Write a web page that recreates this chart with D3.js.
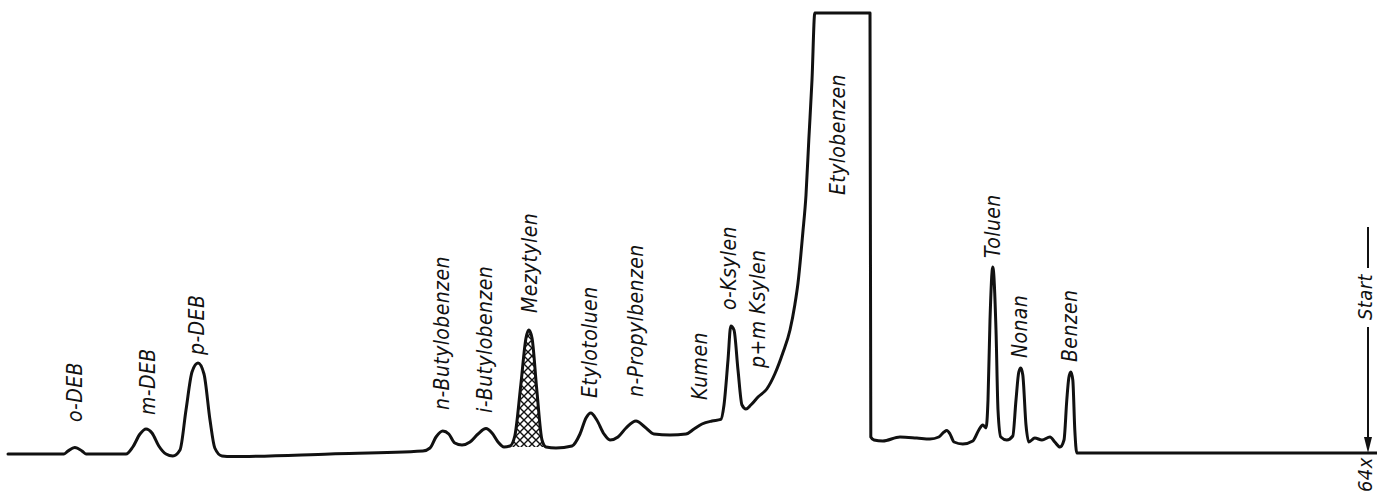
<!DOCTYPE html>
<html>
<head>
<meta charset="utf-8">
<script src="https://cdn.jsdelivr.net/npm/d3@7"></script>
<style>
  html, body { margin: 0; background: #fff; }
  svg { display: block; }
  text { font-family: "DejaVu Sans Condensed", "DejaVu Sans", sans-serif; font-style: italic; fill: #111; letter-spacing: 0.4px; }
</style>
</head>
<body>
<svg id="chart" width="1377" height="493"></svg>
<script>
// Recorder trace: retention time (min, counted back from injection) and detector signal (chart units, 110 = full scale)
const traceTime = [
  34.0, 32.6, 32.5, 32.33, 32.15, 32.05, 31.05,
  30.88, 30.7, 30.55, 30.4, 30.23, 30.05, 29.88,
  29.7, 29.55, 29.4, 29.25, 29.1, 28.95, 28.83, 28.65, 28.4,
  25.95, 23.63,
  23.45, 23.3, 23.13, 22.98, 22.83, 22.65, 22.45,
  22.25, 22.05, 21.9, 21.75, 21.6, 21.45,
  21.33, 21.18, 21.05, 20.98, 20.9, 20.78, 20.65, 20.55,
  20.3, 19.9,
  19.7, 19.55, 19.43, 19.28, 19.1, 18.95, 18.75,
  18.55, 18.3, 18.08, 17.85, 17.45, 17.05,
  16.85, 16.65, 16.4, 16.18,
  16.1, 16.0, 15.93, 15.85, 15.75, 15.65, 15.55, 15.43,
  15.25, 15.03, 14.83, 14.63, 14.45, 14.33, 14.25, 14.13, 14.05, 13.98, 13.9, 13.83,
  12.45, 12.43, 12.35, 12.13, 11.7, 11.28, 10.95, 10.73,
  10.6, 10.53, 10.45, 10.35, 10.13, 9.88, 9.73, 9.63, 9.55,
  9.5, 9.45, 9.38, 9.3, 9.25, 9.18, 9.03, 8.88,
  8.8, 8.73, 8.68, 8.63, 8.55, 8.48, 8.33, 8.15, 7.95, 7.83, 7.7, 7.6,
  7.53, 7.48, 7.43, 7.38, 7.33, 7.28, 6.7, -0.23
];
const traceSignal = [
  -0.25, -0.25, 0.5, 1.4, 0.5, -0.25, -0.25,
  1.5, 4.75, 6, 5, 1.75, -0.25, -0.75,
  0.75, 10.75, 20.25, 22.5, 19.75, 8.25, 1.25, -0.75, -0.9,
  -0.25, 0.5,
  1.25, 4, 5.5, 4.75, 2.5, 2, 2.75,
  4.75, 6.1, 5, 2.75, 1.5, 1.75,
  4.25, 17, 28.75, 30.75, 28.75, 15.75, 3.25, 1.5,
  1.25, 1.75,
  4.75, 8.75, 10, 8.25, 4.75, 3.25, 4,
  6.25, 8, 6.5, 4.75, 4.5, 4.75,
  6, 7.25, 8, 8.4,
  12, 23.25, 31.75, 30.75, 20.75, 12, 11, 12,
  14, 16, 19.75, 25, 30.75, 37, 42.5, 55, 64.5, 78.25, 93.25, 110,
  110, 4, 3.25, 3, 4, 3.75, 3.5, 4,
  5.25, 5.6, 4.75, 2.75, 2.25, 3, 5.75, 7, 6.25,
  13.25, 33.25, 46.5, 30.75, 10.75, 4, 3.25, 4.25,
  13.25, 20.25, 21.25, 19.5, 7, 2.75, 3.75, 3.25, 4, 2.75, 1.5, 3.25,
  13.25, 18.75, 20.25, 18.25, 5.75, 0, 0, 0
];

// Peak identifications, with the time and signal level where each label begins
const peakNames  = ["o-DEB", "m-DEB", "p-DEB", "n-Butylobenzen", "i-Butylobenzen", "Mezytylen",
                    "Etylotoluen", "n-Propylbenzen", "Kumen", "o-Ksylen", "p+m Ksylen",
                    "Etylobenzen", "Toluen", "Nonan", "Benzen"];
const peakLabelTime  = [32.15, 30.33, 29.1, 22.98, 21.9, 20.78, 19.28, 18.13, 16.53, 15.8, 15.08, 13.08, 9.2, 8.53, 7.28];
const peakLabelLevel = [7.75, 9.5, 24.5, 10.75, 10, 35, 13.75, 14, 13.25, 35.75, 21.25, 64.5, 48.75, 23.75, 22.75];

// Shaded peak (mesitylene) window and its drop-line level
const shadedWindow = [20.55, 21.45];
const shadedBase = 1.5;

const startTime = 0;
const attenuation = "64x";

const W = 1377, H = 493;
const svg = d3.select("#chart");

// Time runs from the injection mark on the right towards the left
const x = d3.scaleLinear().domain([0, 34]).range([1368, 8]);
const y = d3.scaleLinear().domain([0, 110]).range([453, 13]);

const points = traceTime.map((t, i) => ({ t, s: traceSignal[i] }));

// Cross-hatch for the shaded peak
const defs = svg.append("defs");
const pat = defs.append("pattern")
  .attr("id", "hatch").attr("patternUnits", "userSpaceOnUse")
  .attr("width", 8).attr("height", 8);
pat.append("path").attr("d", "M0,0 L8,8 M8,0 L0,8")
  .attr("stroke", "#111").attr("stroke-width", 1.4).attr("fill", "none");

const shaded = points.filter(p => p.t >= shadedWindow[0] && p.t <= shadedWindow[1]);
svg.append("path")
  .datum(shaded)
  .attr("fill", "url(#hatch)")
  .attr("d", d3.area()
    .x(p => x(p.t)).y0(y(shadedBase)).y1(p => y(p.s))
    .curve(d3.curveMonotoneX));

// The trace itself
svg.append("path")
  .datum(points)
  .attr("fill", "none")
  .attr("stroke", "#111")
  .attr("stroke-width", 3)
  .attr("stroke-linejoin", "round")
  .attr("stroke-linecap", "round")
  .attr("d", d3.line().x(p => x(p.t)).y(p => y(p.s)).curve(d3.curveMonotoneX));

// Peak labels, written upwards
svg.append("g").selectAll("text")
  .data(peakNames)
  .join("text")
  .attr("transform", (d, i) => `translate(${x(peakLabelTime[i])},${y(peakLabelLevel[i])}) rotate(-90)`)
  .attr("font-size", 21)
  .text(d => d);

// Injection mark with arrow
const sx = x(startTime);
const mark = svg.append("g").attr("stroke", "#111").attr("stroke-width", 2);
mark.append("line").attr("x1", sx).attr("x2", sx).attr("y1", y(56.5)).attr("y2", y(46.25));
mark.append("line").attr("x1", sx).attr("x2", sx).attr("y1", y(31.5)).attr("y2", y(3));
svg.append("path")
  .attr("d", `M${sx},${y(0)} L${sx - 4},${y(4)} L${sx + 4},${y(4)} Z`)
  .attr("fill", "#111");
svg.append("text")
  .attr("transform", `translate(${sx + 4},${y(39)}) rotate(-90)`)
  .attr("text-anchor", "middle")
  .attr("font-size", 20)
  .text("Start");
svg.append("text")
  .attr("transform", `translate(${W - 5},${y(-9.75)}) rotate(-90)`)
  .attr("font-size", 20)
  .text(attenuation);
</script>
</body>
</html>
